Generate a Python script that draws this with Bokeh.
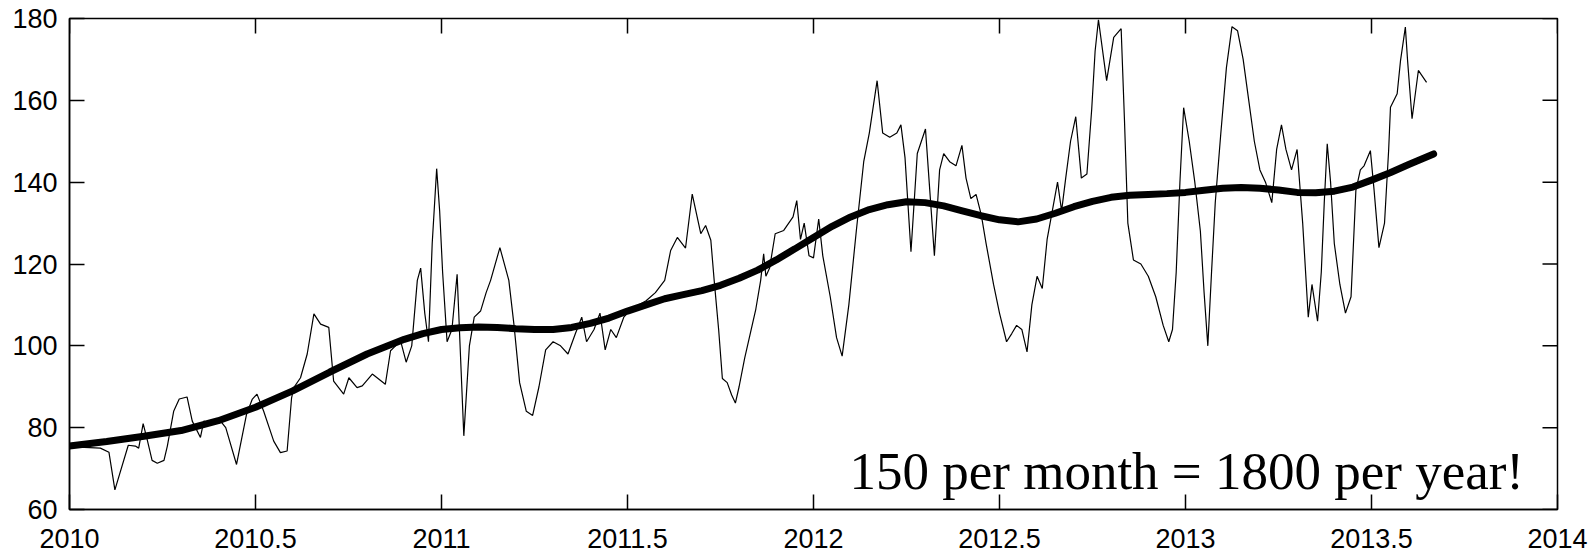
from bokeh.plotting import figure
from bokeh.models import Label, FixedTicker
from bokeh.embed import file_html
from bokeh.resources import INLINE

# ---- data ----
thin_x = [
    2010.000, 2010.040, 2010.083, 2010.106, 2010.122, 2010.158, 2010.177, 2010.186, 2010.198, 2010.209,
    2010.222, 2010.236, 2010.254, 2010.263, 2010.280, 2010.295, 2010.316, 2010.330, 2010.352, 2010.361,
    2010.388, 2010.406, 2010.420, 2010.449, 2010.476, 2010.491, 2010.504, 2010.522, 2010.549, 2010.567,
    2010.585, 2010.597, 2010.603, 2010.621, 2010.639, 2010.657, 2010.675, 2010.697, 2010.710, 2010.737,
    2010.751, 2010.773, 2010.787, 2010.814, 2010.849, 2010.863, 2010.890, 2010.905, 2010.920, 2010.935,
    2010.944, 2010.955, 2010.965, 2010.975, 2010.987, 2010.995, 2011.003, 2011.015, 2011.028, 2011.042,
    2011.060, 2011.075, 2011.088, 2011.105, 2011.120, 2011.132, 2011.157, 2011.181, 2011.195, 2011.210,
    2011.228, 2011.245, 2011.262, 2011.280, 2011.300, 2011.320, 2011.340, 2011.360, 2011.377, 2011.390,
    2011.410, 2011.426, 2011.440, 2011.455, 2011.470, 2011.490, 2011.510, 2011.530, 2011.550, 2011.575,
    2011.600, 2011.616, 2011.634, 2011.656, 2011.674, 2011.697, 2011.710, 2011.724, 2011.733, 2011.745,
    2011.755, 2011.768, 2011.780, 2011.790, 2011.800, 2011.815, 2011.830, 2011.845, 2011.858, 2011.866,
    2011.872, 2011.882, 2011.897, 2011.920, 2011.945, 2011.955, 2011.965, 2011.975, 2011.988, 2012.000,
    2012.014, 2012.025, 2012.045, 2012.062, 2012.077, 2012.095, 2012.115, 2012.135, 2012.150, 2012.171,
    2012.186, 2012.205, 2012.224, 2012.235, 2012.246, 2012.262, 2012.279, 2012.290, 2012.301, 2012.311,
    2012.325, 2012.339, 2012.350, 2012.366, 2012.383, 2012.399, 2012.410, 2012.423, 2012.437, 2012.451,
    2012.464, 2012.484, 2012.500, 2012.519, 2012.533, 2012.546, 2012.560, 2012.574, 2012.587, 2012.601,
    2012.615, 2012.628, 2012.642, 2012.656, 2012.667, 2012.678, 2012.691, 2012.705, 2012.720, 2012.735,
    2012.748, 2012.757, 2012.766, 2012.788, 2012.807, 2012.827, 2012.836, 2012.845, 2012.860, 2012.880,
    2012.900, 2012.920, 2012.940, 2012.955, 2012.965, 2012.975, 2012.985, 2012.995, 2013.010, 2013.025,
    2013.040, 2013.050, 2013.060, 2013.070, 2013.080, 2013.095, 2013.110, 2013.125, 2013.140, 2013.155,
    2013.170, 2013.185, 2013.200, 2013.215, 2013.232, 2013.245, 2013.258, 2013.270, 2013.285, 2013.300,
    2013.315, 2013.330, 2013.340, 2013.355, 2013.365, 2013.373, 2013.381, 2013.390, 2013.400, 2013.415,
    2013.430, 2013.445, 2013.458, 2013.470, 2013.480, 2013.497, 2013.507, 2013.520, 2013.535, 2013.546,
    2013.551, 2013.569, 2013.578, 2013.591, 2013.597, 2013.609, 2013.626, 2013.648,
]
thin_y = [
    75.3, 75.2, 75.0, 74.0, 64.8, 75.7, 75.5, 75.0, 81.0, 77.0,
    72.0, 71.3, 72.0, 75.5, 84.0, 87.0, 87.5, 81.6, 77.6, 81.6,
    80.8, 81.6, 80.0, 71.0, 83.3, 86.9, 88.2, 84.0, 76.7, 73.9,
    74.3, 87.3, 89.8, 92.2, 98.0, 107.8, 105.3, 104.5, 91.4, 88.2,
    92.2, 89.8, 90.2, 93.1, 90.6, 98.8, 101.2, 96.0, 100.0, 116.0,
    119.0, 108.0, 101.0, 125.0, 143.3, 133.0, 118.0, 101.0, 104.0, 117.5,
    78.0, 100.0, 107.0, 108.5, 113.0, 116.0, 124.0, 116.0, 105.0, 91.0,
    84.0, 83.0, 90.0, 99.0, 101.0, 100.0, 98.0, 103.0, 107.0, 101.0,
    104.0, 108.0, 99.0, 104.0, 102.0, 107.0, 109.0, 110.0, 111.0, 113.0,
    116.0, 123.3, 126.5, 123.9, 137.1, 127.4, 129.4, 125.8, 116.0, 104.0,
    92.0, 91.0, 88.0, 86.0, 90.0, 97.0, 103.0, 109.0, 116.0, 122.5,
    117.0, 119.0, 127.4, 128.2, 131.5, 135.5, 126.0, 130.0, 122.0, 121.5,
    131.0, 122.0, 112.0, 102.0, 97.5, 110.0, 128.0, 145.0, 152.0, 164.8,
    152.0, 151.0, 152.0, 154.0, 146.0, 123.0, 147.0, 150.0, 153.0, 140.0,
    122.0, 143.0, 147.0, 145.0, 144.0, 149.0, 141.0, 136.0, 137.0, 132.0,
    125.0, 115.0, 108.0, 101.0, 103.0, 105.0, 104.0, 98.5, 110.0, 117.0,
    114.0, 126.0, 133.0, 140.0, 133.0, 141.0, 150.0, 156.0, 141.0, 142.0,
    158.0, 172.0, 179.7, 164.8, 175.4, 177.5, 155.0, 130.0, 121.0, 120.0,
    117.0, 112.0, 105.0, 101.0, 104.0, 118.0, 140.0, 158.2, 150.0, 140.0,
    128.0, 113.0, 100.0, 118.0, 135.0, 152.0, 168.0, 178.0, 177.0, 170.0,
    160.0, 150.0, 143.0, 140.0, 135.0, 148.0, 154.0, 148.0, 143.0, 148.0,
    130.0, 107.0, 115.0, 106.0, 118.0, 135.0, 149.4, 140.0, 125.0, 115.0,
    108.0, 112.0, 138.0, 143.0, 144.0, 147.7, 138.0, 124.0, 130.0, 147.7,
    158.3, 161.6, 169.7, 177.9, 169.7, 155.5, 167.3, 164.4,
]

smooth_x = [
    2010.00, 2010.10, 2010.20, 2010.30, 2010.40, 2010.50, 2010.60, 2010.70, 2010.80, 2010.90,
    2010.95, 2011.00, 2011.05, 2011.10, 2011.15, 2011.20, 2011.25, 2011.30, 2011.35, 2011.40,
    2011.45, 2011.50, 2011.55, 2011.60, 2011.65, 2011.70, 2011.75, 2011.80, 2011.85, 2011.90,
    2011.95, 2012.00, 2012.05, 2012.10, 2012.15, 2012.20, 2012.25, 2012.30, 2012.35, 2012.40,
    2012.45, 2012.50, 2012.55, 2012.60, 2012.65, 2012.70, 2012.75, 2012.80, 2012.85, 2012.90,
    2012.95, 2013.00, 2013.05, 2013.10, 2013.15, 2013.20, 2013.25, 2013.30, 2013.35, 2013.40,
    2013.45, 2013.50, 2013.55, 2013.60, 2013.667,
]
smooth_y = [
    75.5, 76.6, 77.9, 79.3, 81.7, 85.0, 89.0, 93.6, 98.0, 101.6,
    103.0, 104.0, 104.4, 104.6, 104.5, 104.2, 104.0, 104.0, 104.5, 105.5,
    106.8, 108.5, 110.0, 111.5, 112.5, 113.5, 114.8, 116.5, 118.5, 121.0,
    123.7, 126.5, 129.2, 131.5, 133.3, 134.5, 135.2, 135.0, 134.2, 133.0,
    131.8, 130.8, 130.3, 131.0, 132.4, 134.0, 135.3, 136.3, 136.8, 137.0,
    137.2, 137.5, 138.0, 138.5, 138.7, 138.5, 138.1, 137.5, 137.4, 137.8,
    138.8, 140.5, 142.3, 144.3, 146.9,
]

x_ticks = [2010, 2010.5, 2011, 2011.5, 2012, 2012.5, 2013, 2013.5, 2014]
x_tick_labels = ["2010", "2010.5", "2011", "2011.5", "2012", "2012.5", "2013", "2013.5", "2014"]
y_ticks = [60, 80, 100, 120, 140, 160, 180]

note_text = "150 per month = 1800 per year!"

# ---- layout ----
W, H = 1593, 559
B_LEFT, B_RIGHT, B_TOP, B_BOTTOM = 69, 36, 18, 50
X0, X1, Y0, Y1 = 2010, 2014, 60, 180
TICK = 15  # tick length, px

p = figure(width=W, height=H, x_range=(X0, X1), y_range=(Y0, Y1),
           output_backend="svg", toolbar_location=None,
           min_border_left=B_LEFT, min_border_right=B_RIGHT,
           min_border_top=B_TOP, min_border_bottom=B_BOTTOM)
p.grid.visible = False
p.outline_line_color = "black"
p.outline_line_width = 1.5
p.background_fill_color = "white"
p.border_fill_color = "white"

p.line(thin_x, thin_y, line_color="black", line_width=1.2)
p.line(smooth_x, smooth_y, line_color="black", line_width=7, line_cap="round")

label_font = "Liberation Sans"

for ax in (p.xaxis[0], p.yaxis[0]):
    ax.axis_line_color = "black"
    ax.axis_line_width = 1.5
    ax.major_tick_in = TICK
    ax.major_tick_out = 0
    ax.major_tick_line_color = "black"
    ax.major_tick_line_width = 1.5
    ax.minor_tick_line_color = None
    ax.major_label_text_font = label_font
    ax.major_label_text_font_size = "27px"
    ax.major_label_text_color = "black"

xa = p.xaxis[0]
xa.ticker = FixedTicker(ticks=x_ticks)
xa.major_label_overrides = {t: s for t, s in zip(x_ticks, x_tick_labels)}
xa.major_label_standoff = 19

ya = p.yaxis[0]
ya.ticker = FixedTicker(ticks=y_ticks)
ya.major_label_standoff = 12

# mirrored ticks on the top and right edges of the frame (inside)
frame_w = W - B_LEFT - B_RIGHT
frame_h = H - B_TOP - B_BOTTOM
dy = TICK * (Y1 - Y0) / frame_h
dx = TICK * (X1 - X0) / frame_w
p.segment(x0=x_ticks, y0=[Y1] * len(x_ticks), x1=x_ticks, y1=[Y1 - dy] * len(x_ticks),
          line_color="black", line_width=1.5)
p.segment(x0=[X1] * len(y_ticks), y0=y_ticks, x1=[X1 - dx] * len(y_ticks), y1=y_ticks,
          line_color="black", line_width=1.5)

p.add_layout(Label(x=2013.91, y=69.5, text=note_text, text_align="right",
                   text_baseline="alphabetic", text_font="Liberation Serif",
                   text_font_size="53px", text_color="black"))

open("out.html", "w").write(file_html(p, INLINE))
